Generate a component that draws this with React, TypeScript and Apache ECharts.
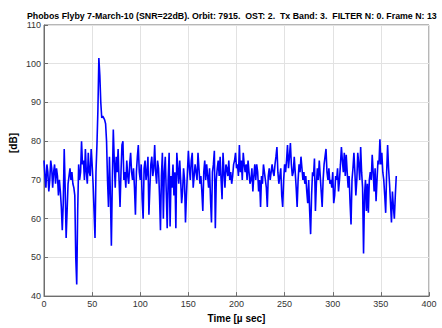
import React, { useEffect, useRef } from "react";
import * as echarts from "echarts";

const TITLE = "Phobos Flyby 7-March-10 (SNR=22dB). Orbit: 7915.  OST: 2.  Tx Band: 3.  FILTER N: 0. Frame N: 13";
const X_LABEL = "Time [\u00b5 sec]";
const Y_LABEL = "[dB]";

// sampled every 1 µs starting at 0
const SAMPLE_STEP_US = 1;
const signalDb: number[] = [
  75, 71, 68, 74, 72, 67, 70, 75, 73, 68,
  72, 74, 69, 73, 71, 66, 70, 67, 63, 57,
  64, 78, 68, 55, 62, 69, 71, 73, 70, 72,
  69, 68, 66, 50, 43, 62, 74, 70, 72, 80,
  74, 75, 70, 78, 72, 69, 77, 72, 71, 78,
  74, 69, 62, 55, 72, 79, 88, 101.5, 97, 90,
  86, 86.5, 86, 85.5, 84.5, 80, 70, 63, 76, 66,
  53, 70, 83, 75, 68, 76, 72, 78, 70, 63,
  72, 79, 80, 70, 72, 68, 75, 71, 69, 74,
  77, 72, 70, 73, 68, 61, 72, 76, 79, 72,
  70, 74, 65, 60, 73, 75, 70, 72, 76, 61,
  68, 74, 76, 71, 73, 79, 72, 69, 75, 73,
  66, 57, 71, 77, 60, 72, 76, 67, 57.5, 70,
  77, 58, 71, 68, 74, 66, 72, 57.5, 77, 73,
  69, 75, 70, 64, 67, 73, 70, 59, 66, 72,
  77.5, 73, 70, 75, 77, 68, 71, 74, 72, 70,
  77, 73, 69, 71, 67, 62, 72, 75, 70, 74,
  71, 68, 73, 65, 59, 72, 74, 77.5, 57.5, 70,
  73, 75, 71, 76, 70, 65, 77, 72, 68, 74,
  73, 71, 75, 70, 72, 69, 71, 74, 75, 77,
  73, 74, 71, 79, 72, 75, 70, 77, 74, 72,
  74, 70, 75, 72, 69, 70, 73, 67, 71, 74,
  70, 74, 72, 67, 70, 63, 71, 69, 74, 72,
  70, 68, 63, 71, 73, 70, 72, 74, 72, 71,
  74, 76, 78.5, 72, 69, 71, 73, 66, 63, 70,
  74, 72, 75, 79, 73, 76, 79.5, 74, 71, 72,
  76, 72, 68, 63, 70, 74, 72, 76, 73, 70,
  72, 69, 71, 67, 64, 70, 62, 56, 66, 72,
  71, 75.5, 62, 69, 73, 70, 75, 71, 67, 63,
  70, 74, 76, 78, 72, 70, 73, 69, 70, 68,
  72, 64, 66, 71, 70, 73, 67, 70, 74, 78.5,
  75, 72, 77, 71, 76.5, 72, 68, 71, 64, 58.5,
  70, 73, 77, 72, 66, 70, 77, 74, 70, 78.5,
  72, 68, 51, 66, 70, 62, 69, 61.5, 70, 72,
  70, 76.5, 72, 67, 73, 64.5, 70, 75, 74, 80.5,
  74, 77, 72, 70, 66, 61.5, 72, 79, 73, 69,
  64, 59, 67, 63, 60, 66, 71,
];

const X_MIN = 0;
const X_MAX = 400;
const X_INTERVAL = 50;
const Y_MIN = 40;
const Y_MAX = 110;
const Y_INTERVAL = 10;

const FONT = "'Liberation Sans', Arial, sans-serif";

export default function App() {
  const ref = useRef<HTMLDivElement>(null);

  useEffect(() => {
    if (!ref.current) return;
    const chart = echarts.init(ref.current, undefined, { renderer: "svg" });
    const seriesData = signalDb.map((v, i) => [i * SAMPLE_STEP_US, v]);
    chart.setOption({
      animation: false,
      backgroundColor: "#ffffff",
      textStyle: { fontFamily: FONT },
      grid: {
        left: 44,
        right: 13,
        top: 25,
        bottom: 23,
        show: true,
        borderColor: "#6e6e6e",
        borderWidth: 1,
        backgroundColor: "transparent",
      },
      graphic: [
        {
          type: "text",
          left: 27,
          top: 11,
          style: {
            text: TITLE,
            fontFamily: FONT,
            fontSize: 8.8,
            fontWeight: "bold",
            fill: "#000",
          },
        },
        {
          type: "text",
          x: 13,
          y: 143,
          rotation: Math.PI / 2,
          style: {
            text: Y_LABEL,
            fontFamily: FONT,
            fontSize: 10,
            fontWeight: "bold",
            fill: "#000",
            align: "center",
            verticalAlign: "middle",
          },
        },
      ],
      xAxis: {
        type: "value",
        min: X_MIN,
        max: X_MAX,
        interval: X_INTERVAL,
        name: X_LABEL,
        nameLocation: "middle",
        nameGap: 12,
        nameTextStyle: { fontFamily: FONT, fontSize: 10, fontWeight: "bold", color: "#000" },
        axisLine: { show: true, lineStyle: { color: "#6e6e6e", width: 1 } },
        axisTick: { show: true, inside: true, length: 4, lineStyle: { color: "#6e6e6e" } },
        axisLabel: { fontFamily: FONT, fontSize: 9, color: "#333", margin: 3 },
        splitLine: { show: true, lineStyle: { color: "#e2e2e2", width: 1 } },
      },
      yAxis: {
        type: "value",
        min: Y_MIN,
        max: Y_MAX,
        interval: Y_INTERVAL,
        axisLine: { show: true, lineStyle: { color: "#6e6e6e", width: 1 } },
        axisTick: { show: true, inside: true, length: 4, lineStyle: { color: "#6e6e6e" } },
        axisLabel: { fontFamily: FONT, fontSize: 9, color: "#333", margin: 3 },
        splitLine: { show: true, lineStyle: { color: "#e2e2e2", width: 1 } },
      },
      series: [
        {
          type: "line",
          data: seriesData,
          showSymbol: false,
          symbol: "none",
          lineStyle: { color: "#0000ff", width: 1.6 },
        },
      ],
    });
    return () => chart.dispose();
  }, []);

  return (
    <div
      ref={ref}
      style={{ position: "absolute", left: 0, top: 0, width: 442, height: 328 }}
    />
  );
}
